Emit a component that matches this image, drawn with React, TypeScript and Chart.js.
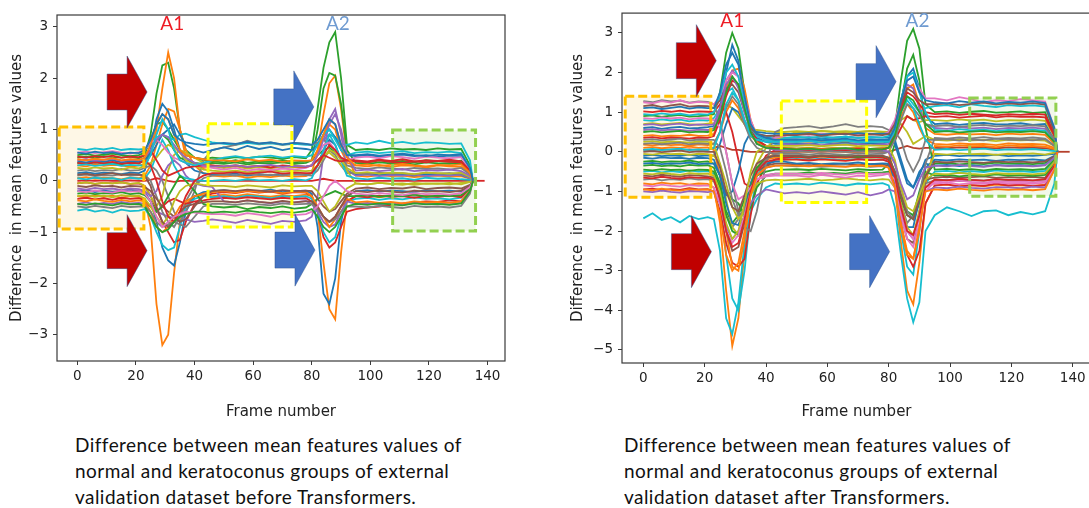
import React, { useEffect, useRef } from 'react';
import { Chart, registerables } from 'chart.js';
Chart.register(...registerables);

// ---------- shared x values (frame numbers) ----------
const frames = [0,3,6,9,12,15,18,21, 23,25,27,29,31,33,35,37,40,43,46, 50,54,58,62,66,70,74,78, 80,82,84,86,88,90,92, 95,99,103,107,111,115,119,123,127,131, 134,135];
const tailFrames = [135, 139];
const tailValues = [0, 0];

// ---------- left panel (before Transformers) ----------
const L01 = [0.45,0.47,0.44,0.48,0.46,0.45,0.47,0.44, 0.5,0.9,1.7,2.25,2.3,1.8,1.0,0.6,0.45,0.4,0.38, 0.36,0.4,0.35,0.38,0.37,0.4,0.36,0.38, 0.4,0.5,0.6,0.65,0.55,0.45,0.4, 0.38,0.36,0.4,0.37,0.39,0.36,0.4,0.38,0.37,0.39, 0.2,0];
const L02 = [0.3,0.28,0.32,0.29,0.31,0.3,0.27,0.3, 0.32,0.5,1.0,1.8,2.5,2.0,1.0,0.45,0.3,0.25,0.28, 0.26,0.3,0.27,0.29,0.25,0.28,0.3,0.27, 0.3,0.5,0.9,1.1,1.0,0.6,0.35, 0.3,0.28,0.31,0.27,0.3,0.29,0.26,0.3,0.28,0.27, 0.15,0];
const L03 = [-0.3,-0.32,-0.28,-0.31,-0.29,-0.33,-0.3,-0.31, -0.35,-0.9,-2.4,-3.2,-3.0,-1.8,-0.8,-0.45,-0.3,-0.28,-0.3, -0.27,-0.3,-0.26,-0.29,-0.31,-0.28,-0.3,-0.27, -0.3,-0.6,-1.6,-2.5,-2.7,-1.4,-0.4, -0.3,-0.28,-0.32,-0.29,-0.3,-0.27,-0.31,-0.3,-0.28,-0.29, -0.15,0];
const L04 = [-0.2,-0.18,-0.22,-0.19,-0.21,-0.2,-0.17,-0.2, -0.22,-0.4,-0.8,-1.3,-1.55,-1.65,-1.2,-0.6,-0.3,-0.22,-0.2, -0.18,-0.21,-0.19,-0.2,-0.17,-0.22,-0.2,-0.19, -0.25,-0.9,-2.2,-2.4,-1.9,-0.8,-0.3, -0.2,-0.18,-0.21,-0.19,-0.2,-0.22,-0.18,-0.2,-0.19,-0.21, -0.1,0];
const L05 = [-0.58,-0.55,-0.6,-0.57,-0.62,-0.56,-0.59,-0.58, -0.55,-0.7,-1.0,-1.25,-1.35,-1.3,-0.9,-0.5,-0.35,-0.3,-0.32, -0.3,-0.33,-0.29,-0.31,-0.34,-0.3,-0.32,-0.3, -0.35,-0.6,-1.0,-1.2,-1.1,-0.7,-0.4, -0.35,-0.33,-0.37,-0.34,-0.36,-0.32,-0.35,-0.34,-0.36,-0.33, -0.15,0];
const L06 = [0.62,0.6,0.63,0.61,0.64,0.6,0.62,0.61, 0.62,0.7,0.85,0.9,0.85,0.8,0.9,0.92,0.85,0.8,0.75, 0.72,0.7,0.74,0.71,0.73,0.7,0.72,0.7, 0.7,0.72,0.8,0.9,0.85,0.72,0.7, 0.75,0.72,0.78,0.73,0.76,0.72,0.75,0.74,0.72,0.73, 0.4,0];
const L07 = [-0.05,-0.03,-0.06,-0.04,-0.05,-0.03,-0.06,-0.05, -0.1,-0.3,-0.55,-0.8,-1.0,-1.2,-1.15,-0.8,-0.45,-0.3,-0.25, -0.22,-0.24,-0.2,-0.23,-0.21,-0.25,-0.22,-0.23, -0.3,-0.6,-1.1,-1.3,-1.2,-0.9,-0.6, -0.55,-0.52,-0.5,-0.47,-0.44,-0.42,-0.4,-0.41,-0.38,-0.4, -0.2,0];
const L08 = [0.15,0.17,0.14,0.16,0.15,0.13,0.16,0.15, 0.2,0.6,1.2,1.5,1.35,1.0,0.6,0.35,0.2,0.15,0.12, 0.12,0.14,0.1,0.13,0.11,0.14,0.12,0.13, 0.15,0.3,0.6,0.8,0.7,0.4,0.2, 0.12,0.14,0.11,0.13,0.12,0.1,0.13,0.12,0.14,0.11, 0.05,0];
const L09 = [0.05,0.07,0.04,0.06,0.05,0.03,0.06,0.05, 0.1,0.3,0.7,1.1,1.4,1.35,1.0,0.6,0.3,0.15,0.1, 0.08,0.1,0.06,0.09,0.07,0.1,0.08,0.09, 0.15,0.6,1.3,1.9,2.05,1.4,0.5, 0.1,0.08,0.11,0.09,0.1,0.07,0.09,0.1,0.08,0.09, 0.04,0];
const L10 = [0.5,0.52,0.49,0.51,0.53,0.5,0.48,0.5, 0.55,0.8,1.1,1.15,1.0,0.8,0.6,0.5,0.45,0.42,0.45, 0.43,0.46,0.44,0.47,0.45,0.43,0.46,0.44, 0.6,1.4,2.2,2.7,2.9,2.0,0.7, 0.6,0.62,0.6,0.63,0.61,0.62,0.6,0.63,0.61,0.62, 0.3,0];
const L11 = [0.35,0.33,0.36,0.34,0.35,0.32,0.36,0.34, 0.4,0.6,0.8,0.9,0.8,0.6,0.45,0.4,0.35,0.33,0.35, 0.33,0.36,0.32,0.35,0.34,0.36,0.33,0.35, 0.4,1.0,1.8,2.1,2.05,1.5,0.6, 0.35,0.33,0.36,0.34,0.35,0.32,0.36,0.34,0.33,0.35, 0.15,0];
const L12 = [-0.45,-0.42,-0.46,-0.43,-0.45,-0.41,-0.44,-0.43, -0.45,-0.5,-0.6,-0.65,-0.7,-0.72,-0.7,-0.75,-0.8,-0.78,-0.75, -0.78,-0.82,-0.76,-0.8,-0.84,-0.78,-0.8,-0.77, -0.7,-0.3,0.5,1.2,1.4,0.9,0.2, 0.1,0.12,0.09,0.11,0.1,0.12,0.09,0.11,0.1,0.12, 0.05,0];
const L13 = [0.2,0.22,0.19,0.21,0.2,0.23,0.2,0.21, 0.25,0.3,0.2,0.0,-0.3,-0.6,-0.8,-0.6,-0.2,0.4,0.6, 0.65,0.7,0.78,0.72,0.75,0.7,0.74,0.72, 0.7,0.75,0.8,0.7,0.6,0.45,0.3, 0.25,0.23,0.26,0.24,0.22,0.25,0.23,0.24,0.22,0.25, 0.12,0];
const LB1 = [0.47,0.45,0.48,0.46,0.49,0.45,0.47,0.46, 0.5,0.6,0.4,0.2,0.1,0.15,0.2,0.25,0.28,0.3,0.3, 0.28,0.3,0.27,0.29,0.26,0.3,0.28,0.27, 0.3,0.4,0.5,0.45,0.4,0.38,0.4, 0.38,0.36,0.4,0.37,0.35,0.38,0.36,0.39,0.37,0.36, 0.2,0];
const LB2 = [0.55,0.57,0.54,0.56,0.58,0.55,0.53,0.56, 0.6,0.75,0.8,0.7,0.55,0.45,0.4,0.35,0.3,0.28,0.25, 0.22,0.25,0.2,0.23,0.21,0.24,0.22,0.25, 0.3,0.5,0.7,0.75,0.6,0.45,0.4, 0.45,0.47,0.44,0.48,0.46,0.43,0.47,0.45,0.44,0.46, 0.2,0];
const LB3 = [0.25,0.23,0.26,0.24,0.25,0.22,0.26,0.24, 0.3,0.35,0.45,0.6,0.7,0.65,0.55,0.4,0.3,0.22,0.2, 0.18,0.2,0.17,0.19,0.21,0.18,0.2,0.19, 0.2,0.3,0.45,0.6,0.55,0.4,0.25, 0.15,0.17,0.14,0.16,0.15,0.13,0.16,0.15,0.14,0.16, 0.08,0];
const LB4 = [-0.1,-0.12,-0.09,-0.11,-0.1,-0.13,-0.1,-0.11, -0.12,-0.2,-0.35,-0.5,-0.6,-0.7,-0.8,-0.75,-0.5,-0.3,-0.2, -0.18,-0.2,-0.17,-0.19,-0.21,-0.18,-0.2,-0.19, -0.2,-0.35,-0.5,-0.6,-0.55,-0.4,-0.25, -0.15,-0.13,-0.16,-0.14,-0.15,-0.12,-0.16,-0.14,-0.13,-0.15, -0.08,0];
const LB5 = [0.38,0.36,0.39,0.37,0.4,0.36,0.38,0.37, 0.4,0.5,0.7,0.9,1.0,1.1,0.9,0.7,0.6,0.55,0.6, 0.65,0.6,0.68,0.62,0.66,0.6,0.64,0.62, 0.6,0.7,0.9,1.0,0.85,0.6,0.5, 0.48,0.5,0.47,0.49,0.51,0.48,0.5,0.47,0.49,0.48, 0.25,0];
const LB6 = [-0.38,-0.4,-0.36,-0.39,-0.41,-0.37,-0.4,-0.38, -0.4,-0.6,-0.9,-1.0,-0.9,-0.7,-0.5,-0.4,-0.3,-0.25,-0.22, -0.2,-0.23,-0.19,-0.22,-0.2,-0.24,-0.21,-0.22, -0.3,-0.5,-0.7,-0.9,-0.75,-0.5,-0.35, -0.42,-0.4,-0.43,-0.41,-0.44,-0.4,-0.42,-0.41,-0.43,-0.4, -0.2,0];
const LB7 = [-0.25,-0.23,-0.26,-0.24,-0.25,-0.22,-0.26,-0.24, -0.28,-0.4,-0.6,-0.5,-0.3,-0.1,0.1,0.0,-0.2,-0.45,-0.5, -0.52,-0.5,-0.55,-0.51,-0.53,-0.5,-0.54,-0.52, -0.45,-0.35,-0.3,-0.25,-0.2,-0.25,-0.3, -0.3,-0.28,-0.31,-0.29,-0.3,-0.27,-0.31,-0.29,-0.3,-0.28, -0.15,0];
const LB8 = [0.05,0.03,0.06,0.04,0.05,0.02,0.06,0.04, 0.05,0.2,0.5,0.8,0.6,0.3,0.1,0.05,0.02,0.0,0.0, 0.02,0.0,0.03,0.01,0.02,0.0,0.03,0.01, 0.05,0.3,0.6,0.9,0.7,0.4,0.1, 0.05,0.03,0.06,0.04,0.05,0.02,0.06,0.04,0.05,0.03, 0.02,0];
const LB9 = [-0.15,-0.17,-0.14,-0.16,-0.15,-0.18,-0.15,-0.16, -0.2,-0.3,-0.2,0.1,0.3,0.4,0.3,0.1,-0.05,-0.1,-0.12, -0.4,-0.42,-0.38,-0.41,-0.44,-0.4,-0.42,-0.39, -0.45,-0.6,-0.8,-0.9,-0.85,-0.6,-0.4, -0.45,-0.43,-0.46,-0.44,-0.47,-0.43,-0.45,-0.44,-0.46,-0.43, -0.2,0];
const LB10 = [-0.05,-0.03,-0.06,-0.04,-0.05,-0.03,-0.06,-0.04, -0.1,-0.3,-0.5,-0.3,0.2,0.5,0.6,0.55,0.45,0.35,0.3, 0.25,0.28,0.24,0.27,0.25,0.28,0.26,0.27, 0.3,0.4,0.5,0.55,0.45,0.3,0.2, -0.05,-0.07,-0.04,-0.06,-0.05,-0.08,-0.05,-0.06,-0.04,-0.07, -0.02,0];
const LB11 = [-0.35,-0.33,-0.36,-0.34,-0.37,-0.33,-0.35,-0.34, -0.38,-0.5,-0.6,-0.5,-0.4,-0.35,-0.4,-0.45,-0.4,-0.38,-0.35, -0.33,-0.35,-0.32,-0.34,-0.36,-0.33,-0.35,-0.34, -0.4,-0.55,-0.7,-0.8,-0.7,-0.5,-0.4, -0.3,-0.32,-0.29,-0.31,-0.3,-0.33,-0.3,-0.31,-0.29,-0.32, -0.15,0];
const LB12 = [0.1,0.12,0.09,0.11,0.1,0.13,0.1,0.11, 0.12,0.0,-0.3,-0.6,-0.8,-0.9,-0.7,-0.4,-0.1,0.05,0.1, 0.12,0.1,0.13,0.11,0.12,0.1,0.13,0.11, 0.1,0.2,0.4,0.6,0.5,0.3,0.15, 0.15,0.13,0.16,0.14,0.15,0.12,0.16,0.14,0.15,0.13, 0.07,0];
const LB13 = [0.55,0.53,0.57,0.54,0.56,0.52,0.55,0.54, 0.6,0.8,1.1,1.3,1.2,0.9,0.8,0.75,0.72,0.7,0.72, 0.74,0.72,0.76,0.73,0.75,0.71,0.74,0.72, 0.7,0.8,1.0,1.2,1.1,0.7,0.5, 0.5,0.52,0.49,0.51,0.53,0.5,0.48,0.51,0.5,0.52, 0.25,0];
const LB14 = [0.42,0.4,0.43,0.41,0.44,0.4,0.42,0.41, 0.45,0.7,1.1,1.3,1.2,0.9,0.6,0.5,0.45,0.42,0.4, 0.4,0.38,0.42,0.39,0.41,0.37,0.4,0.39, 0.4,0.6,0.9,1.2,1.1,0.7,0.45, 0.3,0.32,0.29,0.31,0.33,0.3,0.28,0.31,0.3,0.32, 0.15,0];
const LB15 = [-0.45,-0.47,-0.44,-0.46,-0.48,-0.44,-0.46,-0.45, -0.5,-0.7,-0.9,-1.0,-0.95,-0.8,-0.7,-0.65,-0.6,-0.6,-0.62, -0.6,-0.62,-0.58,-0.61,-0.63,-0.6,-0.62,-0.59, -0.55,-0.7,-0.9,-1.0,-0.9,-0.7,-0.5, -0.45,-0.47,-0.44,-0.46,-0.48,-0.44,-0.46,-0.45,-0.47,-0.44, -0.2,0];
const LB16 = [-0.2,-0.22,-0.19,-0.21,-0.23,-0.19,-0.21,-0.2, -0.25,-0.4,-0.7,-0.9,-0.8,-0.7,-0.65,-0.6,-0.62,-0.64,-0.65, -0.65,-0.68,-0.63,-0.66,-0.7,-0.64,-0.67,-0.65, -0.6,-0.5,-0.3,-0.1,0.0,-0.1,-0.2, -0.25,-0.27,-0.24,-0.26,-0.28,-0.24,-0.26,-0.25,-0.27,-0.24, -0.12,0];
const LB17 = [0.3,0.32,0.29,0.31,0.33,0.29,0.31,0.3, 0.3,0.5,0.9,1.2,1.0,0.6,0.4,0.35,0.3,0.35,0.4, 0.45,0.48,0.44,0.47,0.49,0.45,0.48,0.46, 0.5,0.7,0.9,1.0,0.8,0.6,0.5, 0.55,0.57,0.54,0.56,0.58,0.54,0.56,0.55,0.57,0.54, 0.25,0];
const LB18 = [0.35,0.33,0.36,0.34,0.37,0.33,0.35,0.34, 0.4,0.3,0.0,-0.4,-0.7,-0.8,-0.6,-0.3,0.0,0.1,0.15, 0.15,0.17,0.14,0.16,0.18,0.14,0.16,0.15, 0.15,0.3,0.5,0.7,0.6,0.45,0.4, 0.4,0.38,0.41,0.39,0.42,0.38,0.4,0.39,0.41,0.38, 0.2,0];
const LB19 = [0.12,0.14,0.11,0.13,0.15,0.11,0.13,0.12, 0.1,-0.1,-0.5,-0.8,-0.9,-0.8,-0.6,-0.5,-0.45,-0.42,-0.4, -0.4,-0.42,-0.38,-0.41,-0.43,-0.39,-0.42,-0.4, -0.4,-0.5,-0.7,-0.8,-0.7,-0.5,-0.3, -0.2,-0.22,-0.19,-0.21,-0.23,-0.19,-0.21,-0.2,-0.22,-0.19, -0.1,0];
const LB20 = [0.4,0.42,0.39,0.41,0.43,0.39,0.41,0.4, 0.45,0.6,0.8,0.9,0.85,0.7,0.55,0.45,0.35,0.3,0.28, 0.28,0.3,0.27,0.29,0.31,0.27,0.29,0.28, 0.3,0.5,0.8,1.1,1.3,1.0,0.5, 0.2,0.22,0.19,0.21,0.23,0.19,0.21,0.2,0.22,0.19, 0.1,0];
const LB21 = [-0.3,-0.28,-0.31,-0.29,-0.32,-0.28,-0.3,-0.29, -0.35,-0.5,-0.7,-0.85,-0.7,-0.4,-0.2,-0.1,-0.05,-0.08,-0.1, -0.1,-0.12,-0.09,-0.11,-0.13,-0.09,-0.11,-0.1, -0.1,-0.2,-0.4,-0.6,-0.5,-0.3,-0.15, -0.05,-0.07,-0.04,-0.06,-0.08,-0.04,-0.06,-0.05,-0.07,-0.04, -0.02,0];
const LB22 = [-0.5,-0.52,-0.49,-0.51,-0.53,-0.49,-0.51,-0.5, -0.5,-0.6,-0.8,-0.9,-0.85,-0.8,-0.85,-0.9,-0.7,-0.5,-0.45, -0.45,-0.47,-0.44,-0.46,-0.48,-0.44,-0.46,-0.45, -0.45,-0.55,-0.7,-0.8,-0.75,-0.6,-0.5, -0.5,-0.52,-0.49,-0.51,-0.53,-0.49,-0.51,-0.5,-0.52,-0.49, -0.25,0];
const L00 = [0,0.01,0,0.01,0,0,0.01,0, 0,0.02,0.05,0.03,0,-0.02,0,0,0,0,0, 0,0,0,0,0,0,0,0, 0,0.02,0.04,0.02,0,0,0, 0,0,0,0,0,0,0,0,0,0, 0,0];

// ---------- right panel (after Transformers) ----------
const R01 = [0.9,0.92,0.88,0.91,0.93,0.89,0.9,0.92, 0.95,1.5,2.5,3.0,2.6,1.5,0.6,0.3,0.15,0.1,0.1, 0.08,0.1,0.07,0.09,0.08,0.1,0.07,0.09, 0.1,0.6,1.8,2.8,3.1,2.6,1.2, 1.0,1.02,0.98,1.01,1.03,0.99,1.0,1.02,0.98,1.0, 0.4,0];
const R02 = [0.6,0.62,0.58,0.61,0.63,0.59,0.6,0.62, 0.65,1.1,2.0,2.7,2.3,1.3,0.6,0.35,0.25,0.2,0.2, 0.22,0.2,0.24,0.21,0.23,0.2,0.22,0.21, 0.25,0.6,1.3,1.9,2.1,1.6,0.9, 0.7,0.72,0.68,0.71,0.73,0.69,0.7,0.72,0.68,0.7, 0.3,0];
const R03 = [-0.8,-0.82,-0.78,-0.81,-0.79,-0.83,-0.8,-0.81, -0.9,-1.8,-3.5,-4.9,-4.2,-2.5,-1.0,-0.4,-0.2,-0.15,-0.15, -0.13,-0.15,-0.12,-0.14,-0.16,-0.13,-0.15,-0.14, -0.2,-0.9,-2.3,-3.5,-3.85,-2.8,-1.3, -0.85,-0.83,-0.86,-0.84,-0.87,-0.83,-0.85,-0.84,-0.86,-0.83, -0.4,0];
const R04 = [-1.68,-1.55,-1.72,-1.65,-1.78,-1.62,-1.7,-1.65, -1.7,-2.5,-4.2,-4.6,-3.8,-2.3,-1.5,-1.2,-0.9,-0.8,-0.82, -0.8,-0.83,-0.78,-0.81,-0.85,-0.8,-0.82,-0.79, -0.85,-1.4,-2.6,-3.7,-4.3,-3.8,-2.0, -1.6,-1.4,-1.5,-1.62,-1.5,-1.48,-1.6,-1.52,-1.58,-1.5, -0.8,0];
const R05 = [-0.5,-0.48,-0.52,-0.49,-0.51,-0.47,-0.5,-0.49, -0.55,-1.2,-2.6,-3.7,-4.0,-3.0,-1.5,-0.6,-0.3,-0.2,-0.2, -0.18,-0.2,-0.17,-0.19,-0.21,-0.18,-0.2,-0.19, -0.25,-0.8,-2.0,-2.9,-3.1,-2.0,-0.8, -0.5,-0.48,-0.52,-0.49,-0.51,-0.47,-0.5,-0.49,-0.51,-0.48, -0.25,0];
const R06 = [-0.95,-0.93,-0.97,-0.94,-0.96,-0.92,-0.95,-0.94, -1.0,-1.5,-2.3,-2.8,-2.9,-2.7,-1.6,-0.8,-0.35,-0.2,-0.15, -0.12,-0.15,-0.11,-0.14,-0.12,-0.15,-0.13,-0.14, -0.2,-0.7,-1.8,-2.6,-2.9,-2.5,-1.3, -0.85,-0.82,-0.88,-0.84,-0.86,-0.8,-0.85,-0.83,-0.87,-0.84, -0.4,0];
const R07 = [0.1,0.12,0.09,0.11,0.1,0.13,0.1,0.11, 0.05,-0.6,-2.0,-2.9,-3.0,-2.2,-1.0,-0.4,-0.15,-0.05,0.0, 0.02,0,0.03,0.01,0.02,0,0.03,0.01, 0,-0.6,-1.8,-2.5,-2.7,-2.0,-0.8, 0.15,0.13,0.16,0.14,0.15,0.12,0.16,0.14,0.15,0.13, 0.07,0];
const R08 = [0.4,0.42,0.39,0.41,0.4,0.43,0.4,0.41, 0.45,0.9,1.6,2.05,2.1,1.6,0.8,0.4,0.3,0.25,0.25, 0.27,0.25,0.28,0.26,0.27,0.25,0.28,0.26, 0.3,0.6,1.1,1.6,1.7,1.2,0.6, 0.45,0.43,0.46,0.44,0.45,0.42,0.46,0.44,0.45,0.43, 0.2,0];
const R09 = [1.25,1.22,1.28,1.24,1.3,1.23,1.26,1.24, 1.2,1.4,1.8,2.0,1.9,1.4,0.8,0.4,0.3,0.35,0.4, 0.45,0.43,0.46,0.44,0.45,0.42,0.46,0.44, 0.5,0.8,1.3,1.8,1.9,1.6,1.35, 1.35,1.3,1.38,1.32,1.25,1.3,1.28,1.33,1.3,1.27, 0.6,0];
const R10 = [1.28,1.25,1.3,1.27,1.29,1.24,1.27,1.26, 1.2,0.8,0.0,-0.8,-1.5,-1.9,-2.0,-1.5,-0.3,0.5,0.6, 0.62,0.65,0.6,0.64,0.7,0.63,0.65,0.62, 0.55,0.5,0.3,-0.2,-0.5,-0.2,0.3, 0.3,0.32,0.28,0.31,0.29,0.33,0.3,0.31,0.29,0.32, 0.15,0];
const R11 = [-1.0,-1.02,-0.98,-1.01,-1.03,-0.99,-1.0,-1.02, -1.0,-1.3,-1.9,-2.2,-2.0,-1.7,-1.3,-1.1,-0.95,-1.0,-1.05, -1.02,-1.05,-1.0,-1.04,-1.08,-1.02,-1.1,-1.03, -0.95,-1.0,-1.5,-2.0,-2.2,-1.6,-1.0, -0.9,-0.92,-0.88,-0.91,-0.93,-0.89,-0.9,-0.92,-0.88,-0.9, -0.45,0];
const R12 = [1.02,1.0,1.03,1.01,1.04,1.0,1.02,1.01, 1.0,1.2,1.0,0.5,-0.2,-0.8,-0.9,-0.5,-0.1,0.05,0.05, 0.05,0.03,0.06,0.04,0.05,0.02,0.06,0.04, 0.1,0.3,0.6,0.9,0.8,0.85,0.9, 0.88,0.9,0.86,0.89,0.91,0.87,0.9,0.88,0.89,0.87, 0.4,0];
const R13 = [-0.35,-0.33,-0.36,-0.34,-0.37,-0.33,-0.35,-0.34, -0.4,-0.8,-1.5,-1.8,-1.6,-1.2,-0.9,-0.6,-0.5,-0.45,-0.45, -0.44,-0.46,-0.43,-0.45,-0.47,-0.44,-0.46,-0.45, -0.3,0.2,1.2,2.1,2.45,1.8,0.6, -0.45,-0.43,-0.46,-0.44,-0.47,-0.43,-0.45,-0.44,-0.46,-0.43, -0.2,0];
const R14 = [-0.15,-0.17,-0.14,-0.16,-0.15,-0.18,-0.15,-0.16, -0.2,-0.6,-1.3,-1.8,-1.85,-1.4,-0.8,-0.4,-0.3,-0.25,-0.25, -0.3,-0.28,-0.31,-0.29,-0.3,-0.27,-0.31,-0.29, -0.3,-0.7,-1.4,-1.9,-1.9,-1.2,-0.4, -0.2,-0.22,-0.19,-0.21,-0.2,-0.23,-0.2,-0.21,-0.19,-0.22, -0.1,0];
const R15 = [0.25,0.27,0.24,0.26,0.25,0.23,0.26,0.25, 0.2,-0.3,-1.2,-1.9,-2.1,-1.6,-0.8,-0.3,0.1,0.3,0.4, 0.5,0.48,0.52,0.5,0.47,0.5,0.52,0.49, 0.45,0.6,0.7,0.5,0.2,0.3,0.4, 0.3,0.28,0.31,0.29,0.3,0.27,0.31,0.29,0.3,0.28, 0.15,0];
const R16 = [-0.6,-0.62,-0.58,-0.61,-0.63,-0.59,-0.6,-0.62, -0.65,-1.2,-2.0,-2.5,-2.4,-1.8,-1.0,-0.5,-0.35,-0.3,-0.3, -0.32,-0.3,-0.33,-0.31,-0.3,-0.34,-0.31,-0.32, -0.35,-0.8,-1.6,-2.2,-2.3,-1.5,-0.7, -0.65,-0.63,-0.66,-0.64,-0.62,-0.66,-0.64,-0.65,-0.63,-0.66, -0.3,0];
const R17 = [0.8,0.78,0.82,0.79,0.81,0.77,0.8,0.79, 0.85,1.1,1.5,1.6,1.3,0.8,0.5,0.45,0.4,0.35,0.35, 0.38,0.35,0.39,0.36,0.38,0.35,0.37,0.36, 0.4,0.7,1.1,1.4,1.2,1.0,1.1, 1.15,1.18,1.12,1.2,1.16,1.13,1.18,1.15,1.17,1.14, 0.5,0];
const R18 = [0.55,0.57,0.54,0.56,0.55,0.53,0.56,0.55, 0.6,1.0,1.8,2.05,1.9,1.3,0.7,0.4,0.3,0.25,0.2, 0.18,0.2,0.17,0.19,0.18,0.2,0.17,0.19, 0.2,0.5,1.2,1.7,1.6,1.1,0.7, 0.6,0.58,0.62,0.59,0.61,0.57,0.6,0.59,0.61,0.58, 0.3,0];
const R19 = [-0.25,-0.23,-0.26,-0.24,-0.25,-0.22,-0.26,-0.24, -0.3,-0.6,-1.0,-1.2,-1.3,-1.6,-1.4,-0.9,-0.6,-0.55,-0.55, -0.55,-0.52,-0.56,-0.53,-0.55,-0.5,-0.54,-0.52, -0.5,-0.7,-1.2,-1.6,-1.7,-1.3,-0.6, -0.3,-0.28,-0.32,-0.29,-0.31,-0.27,-0.3,-0.29,-0.31,-0.28, -0.15,0];
const R20 = [0.05,0.04,0.06,0.05,0.04,0.06,0.05,0.05, 0.1,0.15,0.1,0.05,0.05,0.02,0,0,0,0,0, 0,0.01,0,0.01,0,0,0.01,0, 0,0.05,0.1,0.15,0.1,0.08,0.1, 0.1,0.09,0.11,0.1,0.1,0.09,0.11,0.1,0.1,0.09, 0.05,0];
const R21 = [0.18,0.16,0.19,0.17,0.18,0.15,0.19,0.17, 0.2,0.5,1.0,1.3,1.1,0.7,0.4,0.25,0.15,0.1,0.1, 0.08,0.1,0.07,0.09,0.08,0.1,0.07,0.09, 0.1,0.4,0.9,1.2,1.0,0.6,0.3, 0.2,0.18,0.21,0.19,0.2,0.17,0.21,0.19,0.2,0.18, 0.1,0];
const R22 = [-0.1,-0.08,-0.11,-0.09,-0.1,-0.07,-0.11,-0.09, -0.1,0.2,0.7,1.1,1.0,0.7,0.5,0.4,0.35,0.35,0.35, 0.35,0.37,0.34,0.36,0.38,0.35,0.37,0.36, 0.35,0.2,-0.3,-0.8,-0.9,-0.6,-0.2, -0.1,-0.08,-0.11,-0.09,-0.1,-0.07,-0.11,-0.09,-0.1,-0.08, -0.05,0];
const R23 = [-0.7,-0.68,-0.72,-0.69,-0.71,-0.67,-0.7,-0.69, -0.75,-1.1,-1.6,-1.9,-1.7,-1.4,-1.0,-0.6,-0.4,-0.35,-0.35, -0.37,-0.35,-0.38,-0.36,-0.37,-0.35,-0.38,-0.36, -0.4,-0.8,-1.3,-1.8,-1.6,-1.2,-0.8, -0.72,-0.7,-0.74,-0.71,-0.73,-0.69,-0.72,-0.71,-0.73,-0.7, -0.35,0];
const R24 = [0.7,0.72,0.69,0.71,0.73,0.7,0.68,0.71, 0.72,0.9,1.2,1.1,0.9,0.7,0.6,0.55,0.52,0.5,0.5, 0.52,0.5,0.53,0.51,0.52,0.5,0.53,0.51, 0.5,0.6,0.8,0.9,0.8,0.75,0.8, 0.8,0.78,0.82,0.79,0.81,0.77,0.8,0.79,0.81,0.78, 0.4,0];
const R25 = [1.15,1.18,1.13,1.17,1.2,1.14,1.16,1.15, 1.1,1.3,1.6,1.7,1.5,1.0,0.6,0.45,0.4,0.4,0.42, 0.42,0.45,0.4,0.44,0.46,0.41,0.44,0.42, 0.45,0.7,1.2,1.6,1.5,1.3,1.2, 1.2,1.22,1.18,1.21,1.24,1.19,1.22,1.2,1.23,1.19, 0.5,0];
const R26 = [0.85,0.83,0.87,0.84,0.86,0.82,0.85,0.84, 0.8,0.6,0.0,-0.8,-1.2,-1.1,-0.9,-0.7,-0.62,-0.6,-0.6, -0.6,-0.63,-0.58,-0.62,-0.65,-0.6,-0.62,-0.59, -0.55,-0.7,-1.4,-2.0,-2.2,-1.6,-0.9, -0.8,-0.78,-0.82,-0.79,-0.81,-0.77,-0.8,-0.79,-0.81,-0.78, -0.4,0];
const R27 = [0.3,0.32,0.29,0.31,0.33,0.28,0.31,0.3, 0.3,0.1,-0.5,-1.2,-1.6,-1.5,-1.0,-0.5,-0.2,-0.05,0.0, 0.02,0,0.03,0.01,0,0.02,0,0.01, 0,-0.3,-0.9,-1.5,-1.7,-1.1,-0.3, 0.35,0.33,0.36,0.34,0.37,0.33,0.35,0.34,0.36,0.33, 0.15,0];
const R28 = [-0.05,-0.07,-0.04,-0.06,-0.05,-0.08,-0.05,-0.06, -0.1,-0.3,-0.8,-1.4,-1.7,-1.5,-1.1,-0.8,-0.72,-0.7,-0.72, -0.7,-0.68,-0.72,-0.7,-0.67,-0.7,-0.72,-0.69, -0.7,-0.9,-1.3,-1.9,-2.1,-1.5,-0.6, -0.05,-0.07,-0.04,-0.06,-0.05,-0.08,-0.05,-0.06,-0.04,-0.07, -0.02,0];
const R29 = [0.95,0.93,0.97,0.94,0.96,0.92,0.95,0.94, 1.0,1.4,2.0,2.2,1.9,1.2,0.6,0.4,0.3,0.3,0.3, 0.3,0.28,0.31,0.29,0.3,0.27,0.31,0.29, 0.3,0.6,1.3,1.9,2.0,1.5,1.0, 0.55,0.53,0.57,0.54,0.56,0.52,0.55,0.54,0.56,0.53, 0.25,0];
const R30 = [-0.45,-0.47,-0.44,-0.46,-0.45,-0.48,-0.45,-0.46, -0.5,-0.9,-1.6,-2.0,-2.1,-1.6,-0.9,-0.4,-0.15,-0.1,-0.1, -0.1,-0.12,-0.09,-0.11,-0.1,-0.13,-0.1,-0.11, -0.15,-0.5,-1.1,-1.5,-1.6,-1.0,-0.5, -0.6,-0.58,-0.62,-0.59,-0.61,-0.57,-0.6,-0.59,-0.61,-0.58, -0.3,0];
const R31 = [0.35,0.37,0.34,0.36,0.35,0.33,0.36,0.35, 0.4,0.8,1.4,1.8,1.7,1.2,0.6,0.3,0.15,0.1,0.08, 0.05,0.07,0.04,0.06,0.05,0.08,0.05,0.06, 0.1,0.5,1.1,1.5,1.4,1.2,1.0, 0.95,0.97,0.93,0.96,0.94,0.92,0.95,0.93,0.96,0.94, 0.45,0];
const R32 = [-0.3,-0.28,-0.31,-0.29,-0.3,-0.27,-0.31,-0.29, -0.3,-0.6,-1.1,-1.0,-0.5,0.2,0.5,0.5,0.47,0.45,0.45, 0.45,0.47,0.43,0.46,0.44,0.47,0.45,0.46, 0.45,0.3,-0.2,-0.7,-0.9,-0.5,-0.3, -0.35,-0.33,-0.36,-0.34,-0.37,-0.33,-0.35,-0.34,-0.36,-0.33, -0.15,0];
const R33 = [1.1,1.12,1.08,1.11,1.14,1.09,1.12,1.1, 1.1,1.5,2.2,2.5,2.2,1.4,0.7,0.45,0.35,0.3,0.3, 0.3,0.32,0.29,0.31,0.33,0.29,0.31,0.3, 0.3,0.6,1.3,1.8,1.9,1.5,1.3, 1.25,1.22,1.28,1.24,1.27,1.22,1.26,1.24,1.27,1.23, 0.6,0];
const R34 = [-0.95,-0.97,-0.93,-0.96,-0.98,-0.94,-0.96,-0.95, -1.0,-1.6,-2.6,-3.0,-2.8,-2.0,-1.1,-0.6,-0.4,-0.35,-0.35, -0.35,-0.37,-0.34,-0.36,-0.38,-0.34,-0.36,-0.35, -0.4,-0.9,-1.9,-2.6,-2.7,-1.9,-1.0, -0.95,-0.97,-0.93,-0.96,-0.98,-0.94,-0.96,-0.95,-0.97,-0.94, -0.45,0];
const R35 = [0.5,0.52,0.49,0.51,0.53,0.49,0.51,0.5, 0.55,0.9,1.5,1.9,1.7,1.1,0.5,0.2,0.1,0.08,0.08, 0.06,0.08,0.05,0.07,0.09,0.05,0.07,0.06, 0.1,0.4,1.0,1.4,1.3,1.0,0.7, 0.5,0.52,0.49,0.51,0.53,0.49,0.51,0.5,0.52,0.49, 0.25,0];
const R36 = [-0.65,-0.67,-0.63,-0.66,-0.68,-0.64,-0.66,-0.65, -0.7,-1.2,-2.0,-2.4,-2.3,-1.7,-1.0,-0.5,-0.25,-0.2,-0.2, -0.2,-0.22,-0.19,-0.21,-0.23,-0.19,-0.21,-0.2, -0.25,-0.6,-1.4,-2.0,-2.1,-1.6,-0.9, -0.7,-0.72,-0.68,-0.71,-0.73,-0.69,-0.71,-0.7,-0.72,-0.69, -0.35,0];
const R37 = [-0.85,-0.87,-0.83,-0.86,-0.88,-0.84,-0.86,-0.85, -0.9,-1.3,-2.0,-2.3,-2.1,-1.6,-1.0,-0.7,-0.58,-0.55,-0.55, -0.55,-0.57,-0.53,-0.56,-0.58,-0.54,-0.56,-0.55, -0.55,-0.9,-1.6,-2.2,-2.4,-1.8,-1.0, -0.75,-0.77,-0.73,-0.76,-0.78,-0.74,-0.76,-0.75,-0.77,-0.74, -0.35,0];
const R38 = [0.05,0.07,0.04,0.06,0.08,0.04,0.06,0.05, 0.1,0.5,1.2,1.5,1.3,0.8,0.4,0.3,0.25,0.25,0.25, 0.25,0.27,0.24,0.26,0.28,0.24,0.26,0.25, 0.25,0.5,1.0,1.3,1.1,0.7,0.3, 0.05,0.07,0.04,0.06,0.08,0.04,0.06,0.05,0.07,0.04, 0.02,0];
const R39 = [0.68,0.7,0.66,0.69,0.71,0.67,0.69,0.68, 0.7,1.1,1.7,1.9,1.6,1.0,0.5,0.2,0.1,0.05,0.05, 0.05,0.07,0.04,0.06,0.08,0.04,0.06,0.05, 0.0,-0.3,-0.8,-1.2,-1.1,-0.7,-0.4, -0.35,-0.37,-0.33,-0.36,-0.38,-0.34,-0.36,-0.35,-0.37,-0.34, -0.15,0];
const R40 = [-0.55,-0.57,-0.53,-0.56,-0.58,-0.54,-0.56,-0.55, -0.6,-1.0,-1.8,-2.2,-2.0,-1.3,-0.5,0.0,0.15,0.15,0.15, 0.15,0.17,0.14,0.16,0.18,0.14,0.16,0.15, 0.15,-0.2,-0.9,-1.4,-1.5,-1.1,-0.7, -0.55,-0.57,-0.53,-0.56,-0.58,-0.54,-0.56,-0.55,-0.57,-0.54, -0.25,0];
const R41 = [0.2,0.22,0.19,0.21,0.23,0.19,0.21,0.2, 0.2,0.5,1.1,1.4,1.2,0.7,0.3,0.1,0.0,-0.05,-0.05, -0.05,-0.07,-0.04,-0.06,-0.08,-0.04,-0.06,-0.05, 0.0,0.3,0.8,1.2,1.1,0.9,0.7, 0.65,0.67,0.63,0.66,0.68,0.64,0.66,0.65,0.67,0.64, 0.3,0];
const R42 = [0.0,0.02,-0.01,0.01,0.03,-0.01,0.01,0.0, 0.0,-0.4,-1.0,-1.4,-1.5,-1.1,-0.6,-0.3,-0.15,-0.1,-0.1, -0.1,-0.12,-0.09,-0.11,-0.13,-0.09,-0.11,-0.1, -0.15,-0.5,-1.1,-1.6,-1.7,-1.2,-0.6, -0.25,-0.27,-0.24,-0.26,-0.28,-0.24,-0.26,-0.25,-0.27,-0.24, -0.12,0];

// ---------- colours (matplotlib tab10) ----------
const C = {
  blue: '#1f77b4', orange: '#ff7f0e', green: '#2ca02c', red: '#d62728', purple: '#9467bd',
  brown: '#8c564b', pink: '#e377c2', gray: '#7f7f7f', olive: '#bcbd22', cyan: '#17becf',
};

const leftSeries: [number[], string][] = [
  [LB13, C.blue], [LB14, C.orange], [LB15, C.green], [LB16, C.pink], [LB17, C.cyan], [LB18, C.red],
  [LB19, C.brown], [LB20, C.purple], [LB21, C.olive], [LB22, C.gray],
  [LB1, C.red], [LB2, C.pink], [LB3, C.olive], [LB4, C.brown], [LB5, C.blue], [LB6, C.orange],
  [LB7, C.green], [LB8, C.cyan], [LB9, C.purple], [LB10, C.olive], [LB11, C.red], [LB12, C.gray],
  [L13, C.gray], [L12, C.purple], [L06, C.cyan], [L05, C.cyan], [L07, C.red], [L08, C.blue],
  [L11, C.green], [L09, C.orange], [L04, C.blue], [L02, C.orange], [L01, C.green], [L03, C.orange],
  [L10, C.green], [L00, C.red],
];
const rightSeries: [number[], string][] = [
  [R33, C.blue], [R34, C.orange], [R35, C.green], [R36, C.red], [R37, C.pink], [R38, C.cyan],
  [R39, C.purple], [R40, C.olive], [R41, C.gray], [R42, C.brown],
  [R25, C.brown], [R26, C.pink], [R27, C.gray], [R28, C.olive], [R29, C.cyan], [R30, C.green],
  [R31, C.red], [R32, C.blue], [R09, C.pink], [R10, C.gray], [R11, C.purple], [R12, C.red],
  [R14, C.blue], [R15, C.olive], [R16, C.brown], [R17, C.cyan], [R18, C.purple], [R19, C.green],
  [R21, C.orange], [R22, C.blue], [R23, C.gray], [R24, C.olive], [R13, C.green], [R08, C.orange],
  [R07, C.orange], [R06, C.red], [R02, C.blue], [R05, C.cyan], [R04, C.cyan], [R03, C.orange],
  [R01, C.green], [R20, '#b5402c'],
];

const captionLeft = ['Difference between mean features values of', 'normal and keratoconus groups of external', 'validation dataset before Transformers.'];
const captionRight = ['Difference between mean features values of', 'normal and keratoconus groups of external', 'validation dataset after Transformers.'];

const decorPlugin = {
  id: 'decor',
  beforeDatasetsDraw(chart: any, _args: any, opts: any) {
    const { ctx, scales } = chart;
    const xs = scales.x, ys = scales.y;
    ctx.save();
    for (const b of opts.boxes || []) {
      const l = xs.getPixelForValue(b.x0), r = xs.getPixelForValue(b.x1);
      const t = ys.getPixelForValue(b.y1), bt = ys.getPixelForValue(b.y0);
      ctx.fillStyle = b.fill;
      ctx.fillRect(l, t, r - l, bt - t);
    }
    ctx.restore();
  },
  afterDatasetsDraw(chart: any, _args: any, opts: any) {
    const { ctx, scales, chartArea: ca } = chart;
    const xs = scales.x, ys = scales.y;
    ctx.save();
    ctx.strokeStyle = '#3a3a3a';
    ctx.lineWidth = 1.2;
    ctx.strokeRect(ca.left, ca.top, ca.right - ca.left, ca.bottom - ca.top);
    ctx.lineWidth = 3;
    ctx.setLineDash([9, 4]);
    for (const b of opts.boxes || []) {
      const l = xs.getPixelForValue(b.x0), r = xs.getPixelForValue(b.x1);
      const t = ys.getPixelForValue(b.y1), bt = ys.getPixelForValue(b.y0);
      ctx.strokeStyle = b.stroke;
      ctx.strokeRect(l, t, r - l, bt - t);
    }
    ctx.setLineDash([]);
    for (const a of opts.arrows || []) {
      const tx = xs.getPixelForValue(a.x), ty = ys.getPixelForValue(a.y);
      ctx.beginPath();
      ctx.moveTo(tx, ty);
      ctx.lineTo(tx - 20, ty - 36);
      ctx.lineTo(tx - 20, ty - 18);
      ctx.lineTo(tx - 40, ty - 18);
      ctx.lineTo(tx - 40, ty + 18);
      ctx.lineTo(tx - 20, ty + 18);
      ctx.lineTo(tx - 20, ty + 36);
      ctx.closePath();
      ctx.fillStyle = a.color;
      ctx.fill();
      ctx.strokeStyle = 'rgba(47,82,143,0.6)';
      ctx.lineWidth = 0.8;
      ctx.stroke();
    }
    ctx.font = '19px Lato';
    ctx.textAlign = 'center';
    ctx.textBaseline = 'middle';
    for (const lb of opts.labels || []) {
      ctx.fillStyle = lb.color;
      ctx.fillText(lb.text, xs.getPixelForValue(lb.x), ys.getPixelForValue(lb.y));
    }
    ctx.restore();
  },
};

const minus = (v: any) => (Number(v) < 0 ? '\u2212' + Math.abs(Number(v)) : String(v));

function Panel(props: any) {
  const { cfg } = props;
  const ref = useRef<HTMLCanvasElement>(null);
  useEffect(() => {
    const datasets: any[] = cfg.series.map(([vals, color]: [number[], string]) => ({
      data: frames.map((f, i) => ({ x: f, y: vals[i] })),
      borderColor: color,
      borderWidth: 1.8,
      pointRadius: 0,
      fill: false,
      tension: 0,
    }));
    datasets.push({
      data: tailFrames.map((f, i) => ({ x: f, y: tailValues[i] })),
      borderColor: cfg.tailColor,
      borderWidth: 1.8,
      pointRadius: 0,
      fill: false,
    });
    const tickFont = { family: 'DejaVu Sans', size: 13.5 };
    const titleFont = { family: 'DejaVu Sans', size: 15 };
    const chart = new Chart(ref.current as HTMLCanvasElement, {
      type: 'line',
      data: { datasets },
      plugins: [decorPlugin],
      options: {
        responsive: false,
        animation: false,
        events: [],
        layout: { padding: { left: 0, top: cfg.padTop, right: cfg.padRight, bottom: 0 } },
        plugins: {
          legend: { display: false },
          tooltip: { enabled: false },
          decor: { boxes: cfg.boxes, arrows: cfg.arrows, labels: cfg.labels },
        } as any,
        scales: {
          x: {
            type: 'linear',
            min: cfg.xMin,
            max: cfg.xMax,
            afterFit: (s: any) => { s.height = cfg.xAxisH; },
            border: { display: false },
            grid: { drawOnChartArea: false, drawTicks: true, tickLength: 4, tickColor: '#3a3a3a' },
            ticks: { stepSize: 20, includeBounds: false, maxRotation: 0, autoSkip: false, padding: 3, color: '#222', font: tickFont, callback: minus },
            title: { display: true, text: 'Frame number', color: '#222', font: titleFont, padding: { top: 0, bottom: 9 } },
          },
          y: {
            type: 'linear',
            min: cfg.yMin,
            max: cfg.yMax,
            afterFit: (s: any) => { s.width = cfg.yAxisW; },
            border: { display: false },
            grid: { drawOnChartArea: false, drawTicks: true, tickLength: 4, tickColor: '#3a3a3a' },
            ticks: { stepSize: 1, includeBounds: false, padding: 5, color: '#222', font: tickFont, callback: minus },
            title: { display: true, text: 'Difference  in mean features values', color: '#222', font: titleFont, padding: { top: cfg.yTitlePad, bottom: 0 } },
          },
        },
      } as any,
    });
    return () => chart.destroy();
  }, []);
  return (
    <canvas ref={ref} width={cfg.w} height={430} style={{ position: 'absolute', left: cfg.left, top: 0 }} />
  );
}

const leftCfg = {
  left: 0, w: 540, padTop: 15, padRight: 35, xAxisH: 69, yAxisW: 57, yTitlePad: 8,
  xMin: -6.95, xMax: 145.95, yMin: -3.51, yMax: 3.23,
  series: leftSeries, tailColor: C.red,
  boxes: [
    { x0: -6.2, x1: 22.7, y0: -0.94, y1: 1.05, stroke: '#FFC000', fill: '#FEF7E6' },
    { x0: 44.6, x1: 73.2, y0: -0.9, y1: 1.11, stroke: '#FFFF00', fill: '#FEFEE9' },
    { x0: 107.6, x1: 135.9, y0: -0.98, y1: 0.99, stroke: '#92D050', fill: '#F1F8EA' },
  ],
  arrows: [
    { x: 23.8, y: 1.73, color: '#C00000' },
    { x: 23.8, y: -1.36, color: '#C00000' },
    { x: 80.7, y: 1.44, color: '#4472C4' },
    { x: 81.1, y: -1.35, color: '#4472C4' },
  ],
  labels: [
    { text: 'A1', x: 32.4, y: 3.06, color: '#EE1C25' },
    { text: 'A2', x: 88.9, y: 3.06, color: '#6F9BD1' },
  ],
};

const rightCfg = {
  left: 560, w: 560, padTop: 10, padRight: 29, xAxisH: 67, yAxisW: 62, yTitlePad: 9,
  xMin: -6.95, xMax: 145.95, yMin: -5.33, yMax: 3.5,
  series: rightSeries, tailColor: '#b5402c',
  boxes: [
    { x0: -5.9, x1: 22.0, y0: -1.15, y1: 1.4, stroke: '#FFC000', fill: '#FEF7E6' },
    { x0: 45.0, x1: 72.8, y0: -1.28, y1: 1.28, stroke: '#FFFF00', fill: '#FEFEE9' },
    { x0: 106.4, x1: 134.5, y0: -1.12, y1: 1.36, stroke: '#92D050', fill: '#F1F8EA' },
  ],
  arrows: [
    { x: 23.8, y: 2.3, color: '#C00000' },
    { x: 22.2, y: -2.52, color: '#C00000' },
    { x: 82.4, y: 1.77, color: '#4472C4' },
    { x: 80.3, y: -2.52, color: '#4472C4' },
  ],
  labels: [
    { text: 'A1', x: 29.0, y: 3.3, color: '#EE1C25' },
    { text: 'A2', x: 89.4, y: 3.3, color: '#6F9BD1' },
  ],
};

const captionStyle: any = {
  position: 'absolute', top: 432, font: '19px Lato', letterSpacing: '0.45px', lineHeight: '26px', color: '#111', whiteSpace: 'nowrap',
};

export default function App() {
  return (
    <div style={{ position: 'fixed', left: 0, top: 0, width: 1089, height: 508, overflow: 'hidden', background: '#fff' }}>
      <Panel cfg={leftCfg} />
      <Panel cfg={rightCfg} />
      <div style={{ ...captionStyle, left: 75 }}>
        {captionLeft.map((t, i) => (<div key={i}>{t}</div>))}
      </div>
      <div style={{ ...captionStyle, left: 624 }}>
        {captionRight.map((t, i) => (<div key={i}>{t}</div>))}
      </div>
    </div>
  );
}
